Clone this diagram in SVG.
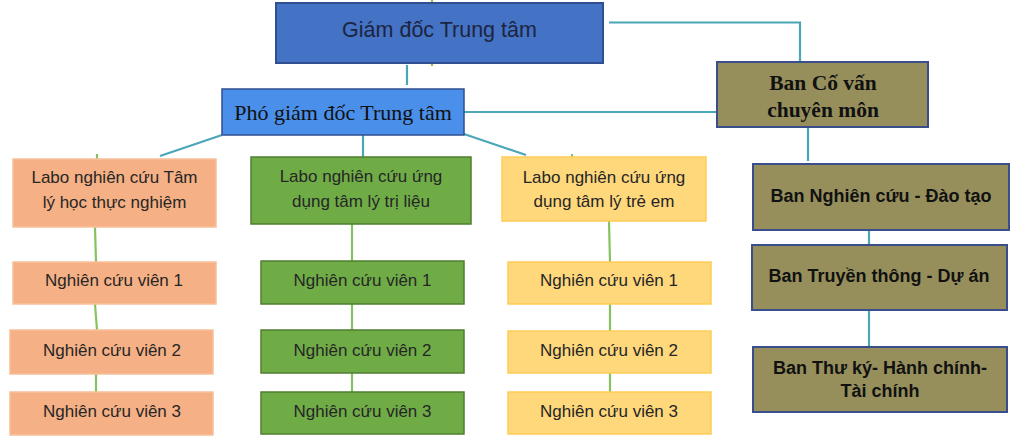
<svg xmlns="http://www.w3.org/2000/svg" width="1024" height="441" viewBox="0 0 1024 441">
<style>
.bg{fill:#ffffff}
.teal{stroke:#4BA6B7;stroke-width:2.2;fill:none}
.green{stroke:#86C35E;stroke-width:2.2;fill:none}
.gd{fill:#4472C4;stroke:#2F4F8F;stroke-width:2}
.pgd{fill:#4A8FEA;stroke:#2F4F8F;stroke-width:1.5}
.olive{fill:#968F5C;stroke:#3A4E8C;stroke-width:2}
.or{fill:#F5B085;stroke:#F8C09A;stroke-width:1.5}
.gr{fill:#6FAC46;stroke:#507E32;stroke-width:1.5}
.ye{fill:#FFD87C;stroke:#FFCC55;stroke-width:1.5}
.cal{font-family:"Liberation Sans",Arial,sans-serif;font-size:17px;fill:#262626;text-anchor:middle}
.tnr{font-family:"Liberation Serif","Times New Roman",serif;font-size:22px;fill:#111;text-anchor:middle}
.tnrb{font-family:"Liberation Serif","Times New Roman",serif;font-size:21.5px;font-weight:bold;fill:#111;text-anchor:middle}
.arb{font-family:"Liberation Sans",Arial,sans-serif;font-size:18px;font-weight:bold;fill:#111;text-anchor:middle}
</style>
<rect class="bg" x="0" y="0" width="1024" height="441"/>
<g id="connectors">
<polyline class="teal" points="609,22.5 800,22.5 800,62"/>
<line class="teal" x1="407" y1="65" x2="407" y2="85"/>
<line class="teal" x1="464" y1="112" x2="717" y2="112"/>
<line class="teal" x1="222" y1="135" x2="160" y2="156"/>
<line class="teal" x1="363" y1="135" x2="363" y2="157"/>
<line class="teal" x1="464" y1="134" x2="526" y2="155"/>
<line class="teal" x1="808" y1="127" x2="808" y2="161"/>
<line class="teal" x1="869" y1="230" x2="869" y2="245"/>
<line class="teal" x1="869" y1="310" x2="869" y2="347"/>
<line class="green" x1="97" y1="154" x2="97" y2="159"/>
<line class="green" x1="572" y1="154" x2="572" y2="157"/>
<line class="green" x1="432" y1="0" x2="432" y2="3"/>
<line class="green" x1="432" y1="63" x2="432" y2="66"/>
<line class="green" x1="95" y1="227" x2="96" y2="262"/>
<line class="green" x1="95" y1="304" x2="97" y2="330"/>
<line class="green" x1="96" y1="374" x2="96" y2="392"/>
<line class="green" x1="352" y1="224" x2="352" y2="261"/>
<line class="green" x1="352" y1="304" x2="352" y2="330"/>
<line class="green" x1="352" y1="373" x2="352" y2="392"/>
<line class="green" x1="609" y1="221" x2="610" y2="262"/>
<line class="green" x1="610" y1="304" x2="610" y2="331"/>
<line class="green" x1="610" y1="373" x2="610" y2="392"/>
</g>
<g id="giam-doc">
<rect class="gd" x="276" y="3" width="327" height="60"/>
<text x="439.5" y="37" font-family="'Liberation Sans',Arial,sans-serif" font-size="21.5" fill="#1C2540" text-anchor="middle">Giám đốc Trung tâm</text>
</g>
<g id="pho-giam-doc">
<rect class="pgd" x="222" y="89" width="242" height="46"/>
<text class="tnr" x="343" y="120">Phó giám đốc Trung tâm</text>
</g>
<g id="ban-co-van">
<rect class="olive" x="717" y="62" width="211" height="65"/>
<text class="tnrb" x="823" y="90">Ban Cố vấn</text>
<text class="tnrb" x="823" y="117">chuyên môn</text>
</g>
<g id="ban-nghien-cuu">
<rect class="olive" x="753" y="164" width="256" height="66"/>
<text class="arb" x="881" y="202">Ban Nghiên cứu - Đào tạo</text>
</g>
<g id="ban-truyen-thong">
<rect class="olive" x="752" y="245" width="255" height="65"/>
<text class="arb" x="879" y="282">Ban Truyền thông - Dự án</text>
</g>
<g id="ban-thu-ky">
<rect class="olive" x="753" y="347" width="254" height="65"/>
<text class="arb" x="880" y="374">Ban Thư ký- Hành chính-</text>
<text class="arb" x="880" y="397">Tài chính</text>
</g>
<g id="labo-1">
<rect class="or" x="13" y="159" width="203" height="68"/>
<text class="cal" x="114.5" y="183">Labo nghiên cứu Tâm</text>
<text class="cal" x="114.5" y="208">lý học thực nghiệm</text>
</g>
<g id="labo-2">
<rect class="gr" x="251" y="157" width="220" height="67"/>
<text class="cal" x="361" y="182">Labo nghiên cứu ứng</text>
<text class="cal" x="361" y="207">dụng tâm lý trị liệu</text>
</g>
<g id="labo-3">
<rect class="ye" x="502" y="157" width="204" height="64"/>
<text class="cal" x="604" y="183">Labo nghiên cứu ứng</text>
<text class="cal" x="604" y="207">dụng tâm lý trẻ em</text>
</g>
<g id="l1-ncv1"><rect class="or" x="13" y="262" width="203" height="42"/><text class="cal" x="114" y="286">Nghiên cứu viên 1</text></g>
<g id="l1-ncv2"><rect class="or" x="10" y="330" width="203" height="44"/><text class="cal" x="112" y="356">Nghiên cứu viên 2</text></g>
<g id="l1-ncv3"><rect class="or" x="10" y="392" width="203" height="43"/><text class="cal" x="112" y="417">Nghiên cứu viên 3</text></g>
<g id="l2-ncv1"><rect class="gr" x="261" y="261" width="203" height="43"/><text class="cal" x="362.5" y="286">Nghiên cứu viên 1</text></g>
<g id="l2-ncv2"><rect class="gr" x="261" y="330" width="203" height="43"/><text class="cal" x="362.5" y="356">Nghiên cứu viên 2</text></g>
<g id="l2-ncv3"><rect class="gr" x="261" y="392" width="203" height="42"/><text class="cal" x="362.5" y="417">Nghiên cứu viên 3</text></g>
<g id="l3-ncv1"><rect class="ye" x="508" y="262" width="203" height="42"/><text class="cal" x="609" y="286">Nghiên cứu viên 1</text></g>
<g id="l3-ncv2"><rect class="ye" x="508" y="331" width="203" height="42"/><text class="cal" x="609" y="356">Nghiên cứu viên 2</text></g>
<g id="l3-ncv3"><rect class="ye" x="508" y="392" width="203" height="42"/><text class="cal" x="609" y="417">Nghiên cứu viên 3</text></g>
</svg>
